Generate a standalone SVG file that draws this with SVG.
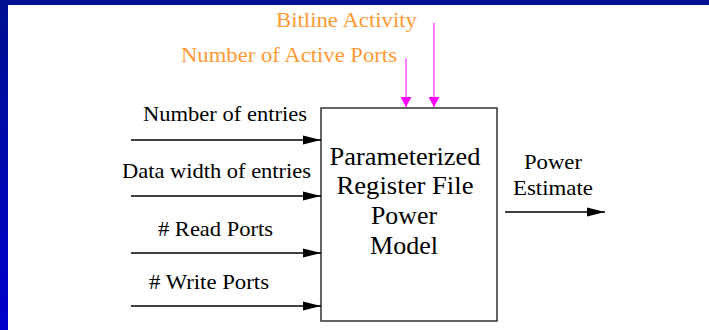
<svg xmlns="http://www.w3.org/2000/svg" width="709" height="330" viewBox="0 0 709 330">
<style>
text{font-family:'Liberation Serif',Tinos,'Times New Roman',Times,serif}
.lbl{font-size:22px;fill:#000}
.org{font-size:22px;fill:#FF9933}
.box{font-size:26px;fill:#000;text-anchor:middle}
.out{font-size:21px;fill:#000;text-anchor:middle}
.wire{stroke:#000;stroke-width:1.5;fill:none}
.mag{stroke:#FF55FF;stroke-width:1.5;fill:none}
</style>
<defs>
<linearGradient id="lg" x1="0" y1="0" x2="0" y2="1">
<stop offset="0" stop-color="#001090"/>
<stop offset="1" stop-color="#0000CC"/>
</linearGradient>
<marker id="ah" markerWidth="18" markerHeight="10" refX="18" refY="5" orient="auto" markerUnits="userSpaceOnUse">
<path d="M0,0.5 L18,5 L0,9.5 Z" fill="#000"/>
</marker>
<marker id="mh" markerWidth="11" markerHeight="11" refX="10" refY="5.5" orient="auto" markerUnits="userSpaceOnUse">
<path d="M0,0 L10,5.5 L0,11 Z" fill="#FF00FF"/>
</marker>
</defs>
<rect x="0" y="0" width="709" height="330" fill="#fff"/>
<rect x="0" y="0" width="709" height="5" fill="#001090"/>
<rect x="0" y="0" width="8" height="330" fill="url(#lg)"/>

<g id="model">
<rect x="321" y="108" width="176" height="213" fill="#fff" stroke="#333" stroke-width="1.5"/>
<text class="box" x="405" y="165" textLength="151" lengthAdjust="spacingAndGlyphs">Parameterized</text>
<text class="box" x="405" y="194" textLength="137" lengthAdjust="spacingAndGlyphs">Register File</text>
<text class="box" x="404" y="224" textLength="66" lengthAdjust="spacingAndGlyphs">Power</text>
<text class="box" x="404" y="254" textLength="68" lengthAdjust="spacingAndGlyphs">Model</text>
</g>

<g id="in-entries"><text class="lbl" x="143" y="121" textLength="164" lengthAdjust="spacingAndGlyphs">Number of entries</text></g>
<g id="in-width"><text class="lbl" x="122" y="178" textLength="189" lengthAdjust="spacingAndGlyphs">Data width of entries</text></g>
<g id="in-read"><text class="lbl" x="158" y="236" textLength="115" lengthAdjust="spacingAndGlyphs"># Read Ports</text></g>
<g id="in-write"><text class="lbl" x="149" y="289" textLength="120" lengthAdjust="spacingAndGlyphs"># Write Ports</text></g>
<g id="in-bitline"><text class="org" x="276" y="27" textLength="141" lengthAdjust="spacingAndGlyphs">Bitline Activity</text></g>
<g id="in-active"><text class="org" x="181" y="62" textLength="216" lengthAdjust="spacingAndGlyphs">Number of Active Ports</text></g>
<g id="out-power">
<text class="out" x="553" y="169" textLength="58" lengthAdjust="spacingAndGlyphs">Power</text>
<text class="out" x="553" y="195" textLength="80" lengthAdjust="spacingAndGlyphs">Estimate</text>
</g>

<g id="connectors">
<line class="wire" x1="131" y1="140" x2="321" y2="140" marker-end="url(#ah)"/>
<line class="wire" x1="131" y1="196" x2="321" y2="196" marker-end="url(#ah)"/>
<line class="wire" x1="131" y1="253" x2="321" y2="253" marker-end="url(#ah)"/>
<line class="wire" x1="131" y1="306" x2="321" y2="306" marker-end="url(#ah)"/>
<line class="wire" x1="505" y1="212" x2="605" y2="212" marker-end="url(#ah)"/>
<line class="mag" x1="406" y1="58" x2="406" y2="107" marker-end="url(#mh)"/>
<line class="mag" x1="434" y1="23" x2="434" y2="107" marker-end="url(#mh)"/>
</g>
</svg>
